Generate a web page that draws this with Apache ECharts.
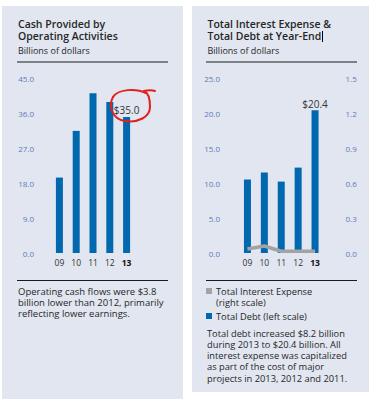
<!DOCTYPE html>
<html><head><meta charset="utf-8">
<script src="https://cdn.jsdelivr.net/npm/echarts@6/dist/echarts.min.js"></script>
<style>html,body{margin:0;padding:0;background:#fff}#c{width:371px;height:401px}</style>
</head><body><div id="c"></div>
<script>
const categories = ['09', '10', '11', '12', '13'];
const cashFlow = [19.4, 31.4, 41.1, 38.8, 35.0];
const totalDebt = [10.5, 11.5, 10.2, 12.2, 20.4];
const interestExpense = [0.035, 0.06, 0.015, 0.015, 0.015];
const cashTicks = { min: 0, max: 45, interval: 9 };
const debtTicks = { min: 0, max: 25, interval: 5 };
const interestTicks = { min: 0, max: 1.5, interval: 0.3 };
const leftTitle = ['Cash Provided by', 'Operating Activities'];
const rightTitle = ['Total Interest Expense &', 'Total Debt at Year-End'];
const unitText = 'Billions of dollars';
const leftNote = ['Operating cash flows were $3.8', 'billion lower than 2012, primarily', 'reflecting lower earnings.'];
const rightNote = ['Total debt increased $8.2 billion', 'during 2013 to $20.4 billion. All', 'interest expense was capitalized', 'as part of the cost of major', 'projects in 2013, 2012 and 2011.'];
const legendNames = ['Total Interest Expense', '(right scale)', 'Total Debt (left scale)'];

const FONT = '"Open Sans", "Noto Sans", sans-serif';
const BG = '#e1e6f0';
const BLUE = '#0068ae';
const GRAY = '#a3a3a3';
const AX = '#5b7cbd';
const TXT = '#262626';

const chart = echarts.init(document.getElementById('c'), null, { renderer: 'svg' });

// multi-line text block; y0 = centre of first line
function block(x, y0, lh, arr, size, weight) {
  return { type: 'text', x: x, y: y0 - lh / 2, z: 10,
    style: { text: arr.join('\n'), font: (weight || 'normal') + ' ' + size + 'px ' + FONT,
      lineHeight: lh, fill: TXT, textVerticalAlign: 'top' } };
}
function curve(p) {
  return { type: 'bezierCurve', z: 20,
    shape: { x1: p[0], y1: p[1], cpx1: p[2], cpy1: p[3], cpx2: p[4], cpy2: p[5], x2: p[6], y2: p[7] },
    style: { stroke: '#e3211c', lineWidth: 2, fill: null, lineCap: 'round' } };
}

const graphics = [
  { type: 'rect', shape: { x: 2, y: 6, width: 181, height: 393 }, style: { fill: BG }, z: -10 },
  { type: 'rect', shape: { x: 192, y: 6, width: 177, height: 386 }, style: { fill: BG }, z: -10 },
  { type: 'line', shape: { x1: 17, y1: 62, x2: 168, y2: 62 }, style: { stroke: '#1a1a1a', lineWidth: 1.2 } },
  { type: 'line', shape: { x1: 206, y1: 62, x2: 357, y2: 62 }, style: { stroke: '#1a1a1a', lineWidth: 1.2 } },
  { type: 'line', shape: { x1: 17, y1: 280.5, x2: 168, y2: 280.5 }, style: { stroke: '#1a1a1a', lineWidth: 1.2 } },
  { type: 'line', shape: { x1: 206, y1: 280.5, x2: 357, y2: 280.5 }, style: { stroke: '#1a1a1a', lineWidth: 1.2 } },
  block(18, 24, 12, leftTitle, 10.5, '600'),
  block(18, 50, 11, [unitText], 9),
  block(207.5, 24, 12, rightTitle, 10.5, '600'),
  { type: 'line', shape: { x1: 322.5, y1: 31, x2: 322.5, y2: 42 }, style: { stroke: '#000', lineWidth: 1 } },
  block(207.5, 50, 11, [unitText], 9),
  block(18, 291, 11.3, leftNote, 9.5),
  block(207, 333, 11.3, rightNote, 9.3),
  { type: 'rect', shape: { x: 206, y: 288, width: 6, height: 6 }, style: { fill: GRAY } },
  { type: 'rect', shape: { x: 206, y: 313, width: 6, height: 6 }, style: { fill: BLUE } },
  block(216, 291, 11.7, [legendNames[0], legendNames[1]], 9.3),
  block(216, 316, 11, [legendNames[2]], 9.3),
  curve([146, 93, 136, 88, 118, 89, 113, 97]),
  curve([113, 97, 108, 106, 112, 119, 125, 121]),
  curve([125, 121, 138, 123, 150, 117, 150, 107]),
  curve([150, 107, 150, 99, 149, 93, 144, 91]),
  curve([144, 91, 148, 90, 152, 90, 155, 91])
];

function yAxis(t, gi, pos, align, margin) {
  return { type: 'value', gridIndex: gi, position: pos, min: t.min, max: t.max, interval: t.interval,
    splitLine: { show: false }, axisLine: { show: false }, axisTick: { show: false },
    axisLabel: { color: AX, fontSize: 8, fontFamily: FONT, align: align, margin: margin,
      padding: [0, 0, 7, 0], formatter: v => v.toFixed(1) } };
}
function xAxis(gi) {
  return { type: 'category', gridIndex: gi, data: categories,
    axisLine: { show: false }, axisTick: { show: false },
    axisLabel: { color: '#333', fontSize: 8.5, fontFamily: FONT, margin: 5, interval: 0,
      formatter: v => v === categories[categories.length - 1] ? '{b|' + v + '}' : v,
      rich: { b: { fontWeight: 'bold', fontSize: 8.5, fontFamily: FONT, color: '#111' } } } };
}
function lastLabel(arr) {
  return arr.map((v, i) => i === arr.length - 1
    ? { value: v, label: { show: true, position: 'top', distance: 1.5, formatter: '$' + v.toFixed(1), color: '#333', fontSize: 10, fontFamily: FONT } }
    : v);
}

chart.setOption({
  animation: false,
  graphic: graphics,
  grid: [
    { left: 51, width: 84, top: 78, height: 175 },
    { left: 239, width: 84.5, top: 78, height: 175 }
  ],
  xAxis: [xAxis(0), xAxis(1)],
  yAxis: [
    yAxis(cashTicks, 0, 'left', 'right', 17),
    yAxis(debtTicks, 1, 'left', 'right', 19),
    yAxis(interestTicks, 1, 'right', 'left', 22)
  ],
  series: [
    { type: 'bar', name: 'Cash Provided by Operating Activities', xAxisIndex: 0, yAxisIndex: 0, barWidth: 7,
      itemStyle: { color: BLUE }, data: lastLabel(cashFlow) },
    { type: 'bar', name: legendNames[2], xAxisIndex: 1, yAxisIndex: 1, barWidth: 7,
      itemStyle: { color: BLUE }, data: lastLabel(totalDebt) },
    { type: 'line', name: legendNames[0], xAxisIndex: 1, yAxisIndex: 2, symbol: 'none', z: 5,
      lineStyle: { color: GRAY, width: 3.5 }, data: interestExpense }
  ]
});
</script></body></html>
